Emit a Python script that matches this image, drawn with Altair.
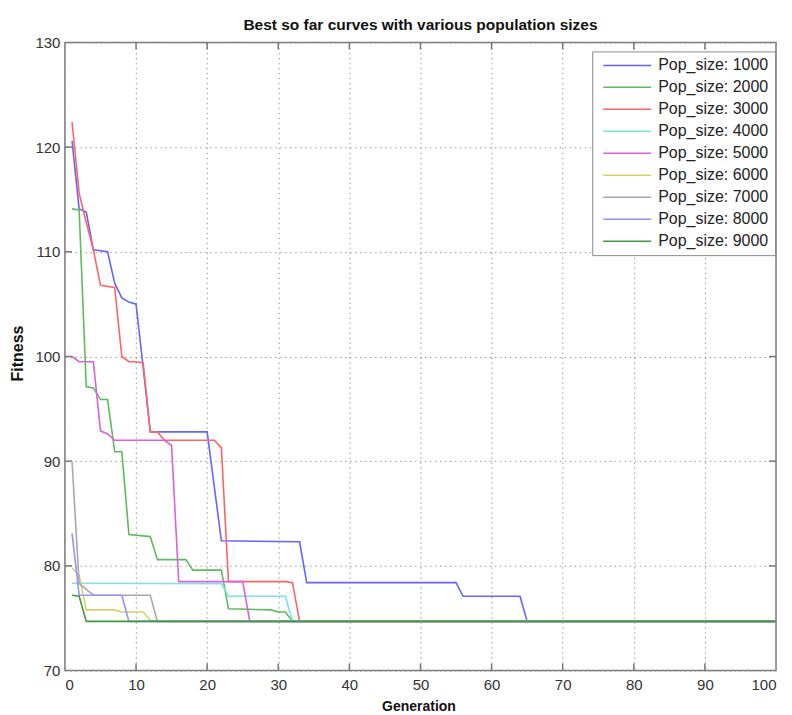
import altair as alt
import pandas as pd

# ---- data ----
series_labels = ["Pop_size: 1000", "Pop_size: 2000", "Pop_size: 3000",
                 "Pop_size: 4000", "Pop_size: 5000", "Pop_size: 6000",
                 "Pop_size: 7000", "Pop_size: 8000", "Pop_size: 9000"]
series_colors = ["#6464ff", "#5cbc5c", "#ff6464", "#7fe2e2", "#dd5fdd",
                 "#d6d26a", "#a8a8a8", "#9494ff", "#3f9a3f"]

gen_1000 = [1, 2, 3, 4, 6, 7, 8, 9, 10, 11, 12, 20, 22, 33, 34, 55, 56, 64, 65, 100]
fit_1000 = [120.6, 114.1, 113.8, 110.2, 110.0, 107.0, 105.6, 105.2, 105.0, 99.0,
            92.8, 92.8, 82.4, 82.3, 78.4, 78.4, 77.1, 77.1, 74.7, 74.7]

gen_2000 = [1, 2, 3, 4, 5, 6, 7, 8, 9, 12, 13, 17, 18, 22, 23, 29, 30, 31, 32, 100]
fit_2000 = [114.1, 114.0, 97.1, 97.0, 95.9, 95.9, 90.9, 90.9, 83.0, 82.8,
            80.6, 80.6, 79.6, 79.6, 75.9, 75.8, 75.6, 75.6, 74.7, 74.7]

gen_3000 = [1, 2, 3, 4, 5, 7, 8, 9, 10, 11, 12, 13, 14, 21, 22, 23, 31, 32, 33, 100]
fit_3000 = [122.4, 115.6, 112.8, 110.2, 106.8, 106.6, 100.0, 99.5, 99.5, 99.4,
            92.8, 92.8, 92.0, 92.0, 91.3, 78.5, 78.5, 78.4, 74.7, 74.7]

gen_4000 = [1, 22, 23, 31, 32, 100]
fit_4000 = [78.35, 78.3, 77.1, 77.1, 74.7, 74.7]

gen_5000 = [1, 2, 4, 5, 6, 7, 14, 15, 16, 25, 26, 100]
fit_5000 = [100.0, 99.5, 99.5, 92.9, 92.6, 92.0, 92.0, 91.5, 78.5, 78.5, 74.7, 74.7]

gen_6000 = [1, 2, 3, 7, 8, 11, 12, 14, 100]
fit_6000 = [79.8, 79.1, 75.8, 75.8, 75.6, 75.6, 74.8, 74.7, 74.7]

gen_7000 = [1, 2, 4, 12, 13, 100]
fit_7000 = [90.0, 78.3, 77.2, 77.2, 74.7, 74.7]

gen_8000 = [1, 2, 8, 9, 100]
fit_8000 = [83.1, 77.2, 77.2, 74.7, 74.7]

gen_9000 = [1, 2, 3, 100]
fit_9000 = [77.2, 77.1, 74.7, 74.7]

x_ticks = [0, 10, 20, 30, 40, 50, 60, 70, 80, 90, 100]
y_ticks = [70, 80, 90, 100, 110, 120, 130]
x_inner = [10, 20, 30, 40, 50, 60, 70, 80, 90]
y_inner = [80, 90, 100, 110, 120]

# ---- build table ----
gens = [gen_1000, gen_2000, gen_3000, gen_4000, gen_5000,
        gen_6000, gen_7000, gen_8000, gen_9000]
fits = [fit_1000, fit_2000, fit_3000, fit_4000, fit_5000,
        fit_6000, fit_7000, fit_8000, fit_9000]
rows = []
for i, (g, f) in enumerate(zip(gens, fits)):
    for gg, ff in zip(g, f):
        rows.append({"series": series_labels[i], "order": i, "gen": gg, "fit": ff})
df = pd.DataFrame(rows)

W, H = 712, 629
FONT = "Liberation Sans"

xscale = alt.Scale(domain=[0, 100], nice=False, zero=False)
yscale = alt.Scale(domain=[70, 130], nice=False, zero=False)

lines = alt.Chart(df).mark_line(strokeWidth=1.6, clip=True).encode(
    x=alt.X("gen:Q", scale=xscale,
            axis=alt.Axis(values=x_ticks, title="Generation", titleY=36,
                          titleX=354, titleBaseline="middle", titleFontSize=14,
                          labelPadding=7)),
    y=alt.Y("fit:Q", scale=yscale,
            axis=alt.Axis(values=y_ticks, title="Fitness", titleX=-47, titleY=311,
                          titleAngle=270, titleBaseline="middle", titleAlign="center",
                          titleFontSize=16, labelPadding=5)),
    color=alt.Color("series:N",
                    scale=alt.Scale(domain=series_labels, range=series_colors),
                    legend=alt.Legend(title=None, orient="none", legendX=528, legendY=9,
                                      symbolType="M-0.5,0H7.5", symbolSize=144,
                                      symbolStrokeWidth=1.5, labelOffset=44,
                                      rowPadding=6, labelFontSize=16, labelFont=FONT,
                                      labelColor="#222", padding=6,
                                      strokeColor="#8a8a8a", fillColor="#ffffff",
                                      labelLimit=200)),
    order=alt.Order("order:Q"),
)

xt = pd.DataFrame({"gen": x_inner})
yt = pd.DataFrame({"fit": y_inner})
tick_style = dict(color="#777777", strokeWidth=1.5)

tick_bottom = alt.Chart(xt).mark_rule(**tick_style).encode(
    x=alt.X("gen:Q", scale=xscale), y=alt.value(H), y2=alt.value(H - 7))
tick_top = alt.Chart(xt).mark_rule(**tick_style).encode(
    x=alt.X("gen:Q", scale=xscale), y=alt.value(0), y2=alt.value(7))
tick_left = alt.Chart(yt).mark_rule(**tick_style).encode(
    y=alt.Y("fit:Q", scale=yscale), x=alt.value(0), x2=alt.value(7))
tick_right = alt.Chart(yt).mark_rule(**tick_style).encode(
    y=alt.Y("fit:Q", scale=yscale), x=alt.value(W), x2=alt.value(W - 7))

chart = alt.layer(tick_bottom, tick_top, tick_left, tick_right, lines).properties(
    width=W, height=H,
    title=alt.TitleParams("Best so far curves with various population sizes",
                          font=FONT, fontSize=15.5, fontWeight="bold",
                          color="#111111", anchor="middle", offset=2),
    autosize=alt.AutoSizeParams(type="none"),
    padding={"left": 57, "top": 34, "right": 8, "bottom": 44},
).configure_view(
    stroke="#7a7a7a", strokeWidth=1.5
).configure_axis(
    labelFont=FONT, labelFontSize=15, labelColor="#333333",
    titleFont=FONT, titleFontWeight="bold", titleColor="#111111",
    domain=False, ticks=False, tickSize=0,
    grid=True, gridColor="#9a9a9a", gridDash=[1.5, 3.5], gridWidth=1,
)

chart.save("out.html", embed_options={"renderer": "svg", "actions": False})
